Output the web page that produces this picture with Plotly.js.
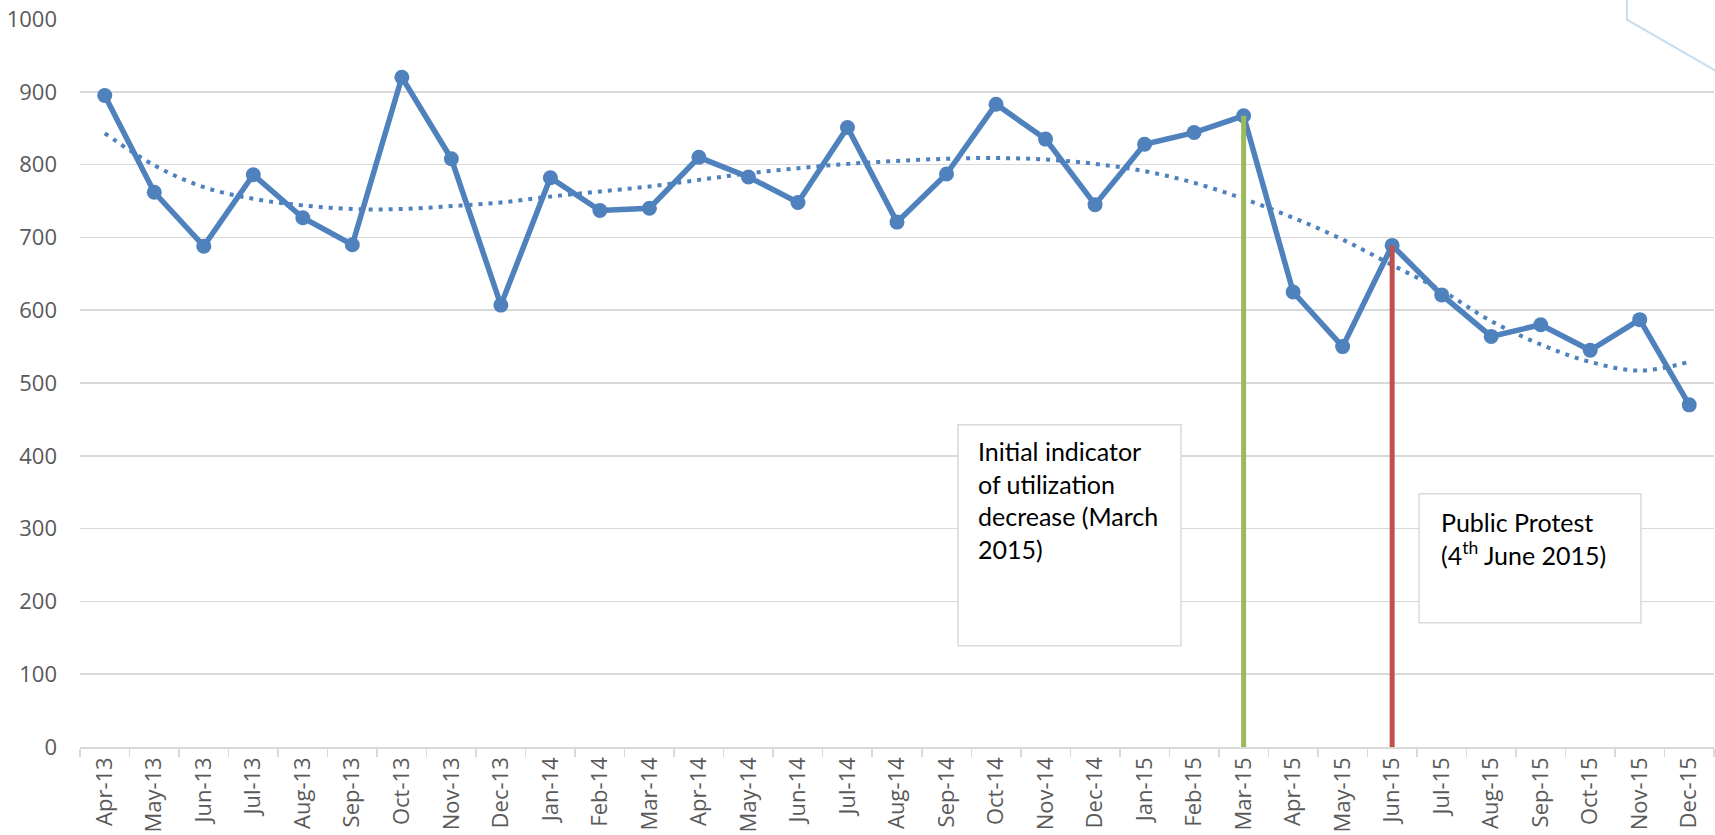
<!DOCTYPE html>
<html>
<head>
<meta charset="utf-8">
<script src="https://cdn.plot.ly/plotly-3.0.1.min.js"></script>
<style>
  html, body { margin: 0; padding: 0; background: #ffffff; }
  #chart { width: 1715px; height: 835px; }
</style>
</head>
<body>
<div id="chart"></div>
<script>
// ---- Data ----
const months = [
  "Apr-13","May-13","Jun-13","Jul-13","Aug-13","Sep-13","Oct-13","Nov-13","Dec-13",
  "Jan-14","Feb-14","Mar-14","Apr-14","May-14","Jun-14","Jul-14","Aug-14","Sep-14","Oct-14","Nov-14","Dec-14",
  "Jan-15","Feb-15","Mar-15","Apr-15","May-15","Jun-15","Jul-15","Aug-15","Sep-15","Oct-15","Nov-15","Dec-15"
];
const utilization = [
  895, 762, 688, 786, 727, 690, 920, 808, 607,
  782, 737, 740, 810, 783, 748, 851, 721, 787, 883, 835, 745,
  828, 844, 867, 625, 550, 689, 621, 564, 580, 545, 587, 470
];
const trendValues = [
  843, 799, 769, 753, 744, 739, 739, 743, 748,
  756, 763, 770, 779, 788, 795, 801, 805, 808, 809, 807, 801,
  791, 775, 753, 727, 697, 662, 627, 585, 553, 529, 517, 529
];
const yTicks = [0, 100, 200, 300, 400, 500, 600, 700, 800, 900, 1000];

const indicatorMonth = "Mar-15";
const protestMonth = "Jun-15";
const indicatorText = "Initial indicator<br>of utilization<br>decrease (March<br>2015)";
const protestText = "Public Protest<br>(4<sup>th</sup> June 2015)";

// ---- Traces ----
const blue = "#4F81BD";
const traces = [
  {
    x: months, y: trendValues, type: "scatter", mode: "lines",
    line: { color: blue, width: 4, dash: "4px,6px", shape: "spline", smoothing: 1 },
    hoverinfo: "skip", showlegend: false
  },
  {
    x: months, y: utilization, type: "scatter", mode: "lines+markers",
    line: { color: blue, width: 5.5 },
    marker: { color: blue, size: 15 },
    showlegend: false
  },
  {
    x: [indicatorMonth, indicatorMonth],
    y: [0, utilization[months.indexOf(indicatorMonth)]],
    type: "scatter", mode: "lines",
    line: { color: "#9BBB59", width: 5 }, showlegend: false
  },
  {
    x: [protestMonth, protestMonth],
    y: [0, utilization[months.indexOf(protestMonth)]],
    type: "scatter", mode: "lines",
    line: { color: "#C0504D", width: 5 }, showlegend: false
  }
];

const xFont = { family: "Open Sans", size: 22, color: "#595959" };
const yFont = { family: "Open Sans", size: 22, color: "#595959" };
const noteFont = { family: "Lato", size: 25, color: "#000000" };

const layout = {
  width: 1715, height: 835,
  margin: { l: 80, r: 1, t: 19, b: 88, pad: 0 },
  paper_bgcolor: "#ffffff", plot_bgcolor: "#ffffff",
  showlegend: false,
  xaxis: {
    type: "category",
    categoryorder: "array", categoryarray: months,
    range: [-0.5, months.length - 0.5],
    tickangle: -90,
    tickfont: xFont,
    ticks: "outside", tickson: "boundaries", ticklen: 8, tickwidth: 1.5, tickcolor: "#D9D9D9",
    showline: true, linecolor: "#D9D9D9", linewidth: 1.5,
    showgrid: false, zeroline: false, fixedrange: true, automargin: false
  },
  yaxis: {
    range: [0, 1000],
    tickvals: yTicks, ticktext: yTicks.map(String),
    tickfont: yFont,
    ticklabelstandoff: 22,
    showgrid: true, gridcolor: "#D9D9D9", gridwidth: 1.5,
    showline: false, zeroline: false, ticks: "", fixedrange: true, automargin: false
  },
  shapes: [
    { type: "rect", xref: "paper", yref: "paper",
      x0: 0.5373, x1: 0.6738, y0: 0.1392, y1: 0.4427,
      line: { color: "#D9D9D9", width: 1.5 }, fillcolor: "#ffffff", layer: "above" },
    { type: "rect", xref: "paper", yref: "paper",
      x0: 0.8195, x1: 0.9553, y0: 0.1707, y1: 0.3480,
      line: { color: "#D9D9D9", width: 1.5 }, fillcolor: "#ffffff", layer: "above" },
    { type: "path", xref: "paper", yref: "paper",
      path: "M 0.9467 1.03 L 0.9467 0.999 L 1.001 0.929",
      line: { color: "#C5DCEF", width: 2 }, layer: "above" }
  ],
  annotations: [
    { xref: "paper", yref: "paper", x: 0.5490, y: 0.4285,
      xanchor: "left", yanchor: "top", align: "left", showarrow: false,
      text: indicatorText, font: noteFont, borderpad: 0 },
    { xref: "paper", yref: "paper", x: 0.8323, y: 0.3310,
      xanchor: "left", yanchor: "top", align: "left", showarrow: false,
      text: protestText, font: noteFont, borderpad: 0 }
  ]
};

Plotly.newPlot("chart", traces, layout, { displayModeBar: false, staticPlot: true });
</script>
</body>
</html>
